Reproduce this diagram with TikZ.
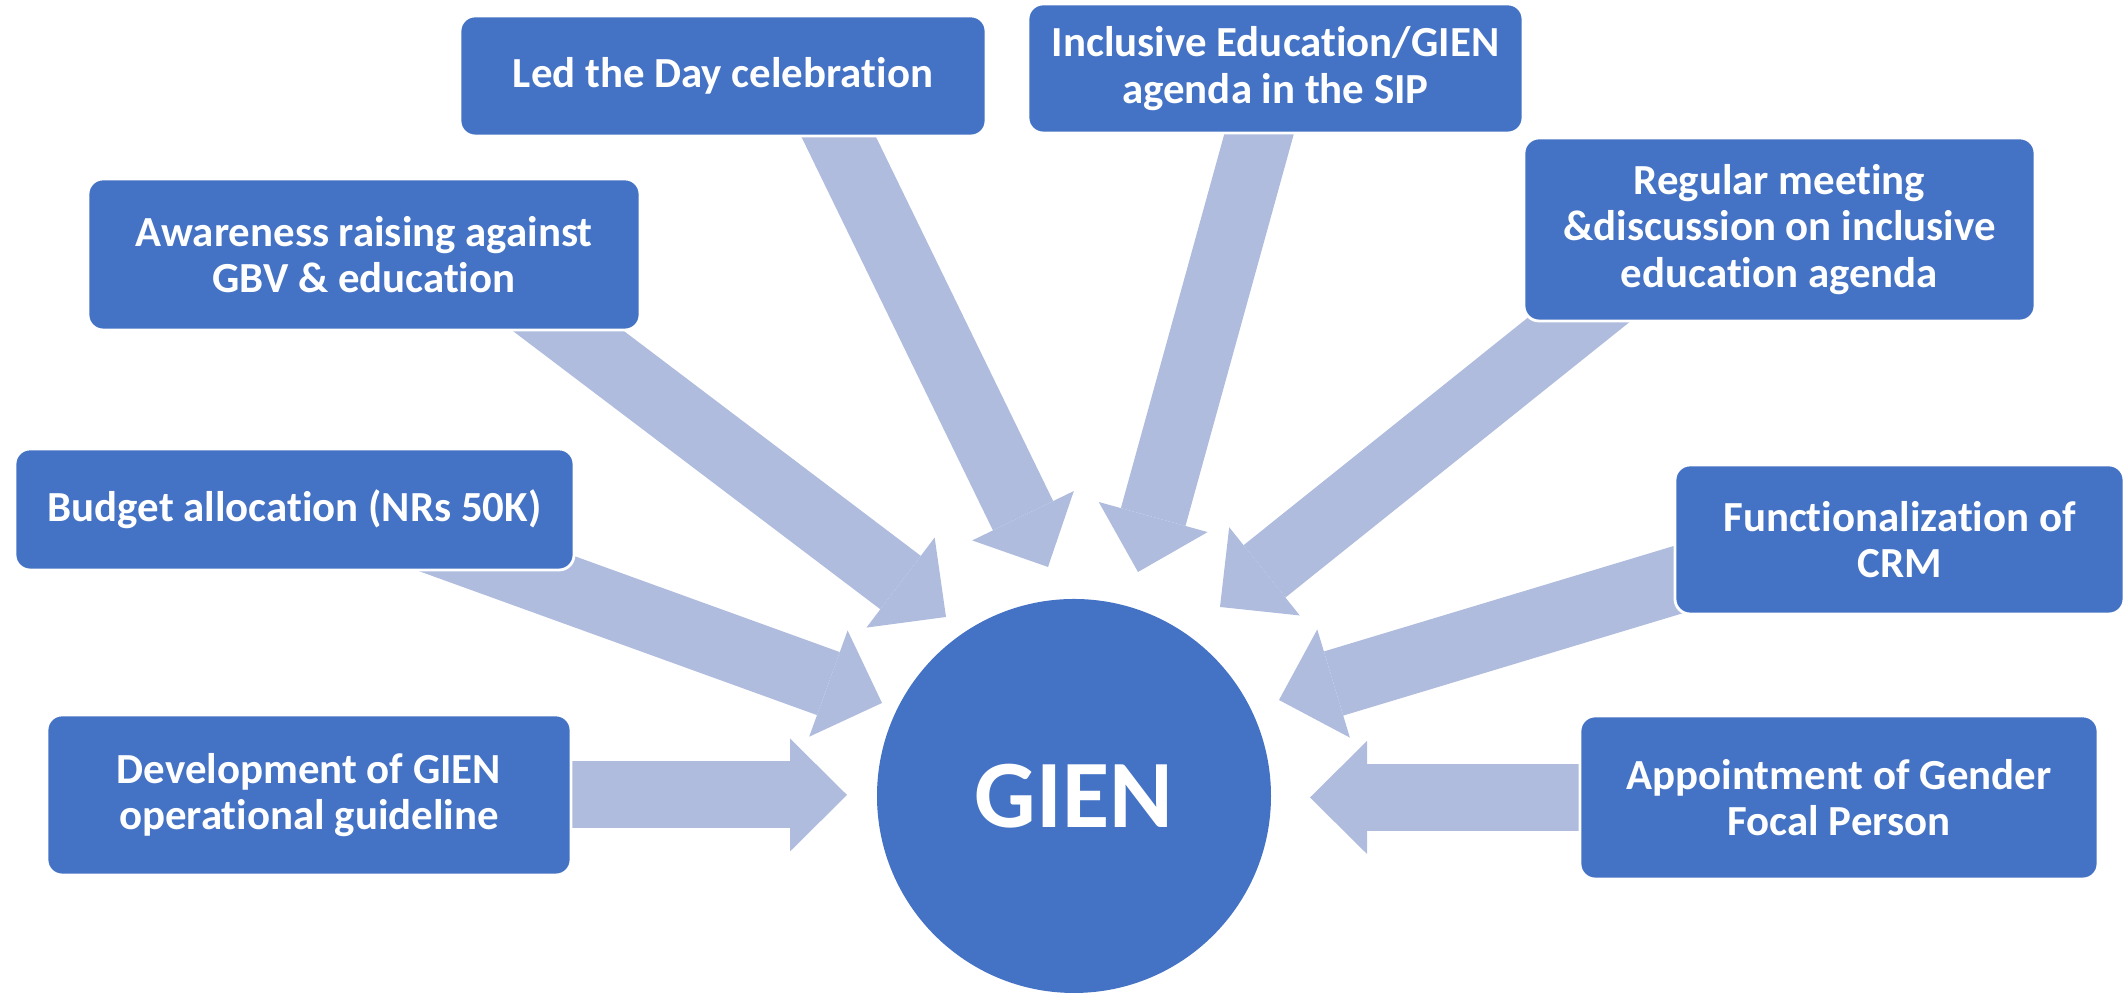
\documentclass[tikz,border=0pt]{standalone}
\usepackage{fontspec}
\setmainfont{Carlito}[Ligatures=NoCommon]
\usetikzlibrary{positioning}
\usetikzlibrary{arrows.meta}
\usetikzlibrary{backgrounds}

\definecolor{boxblue}{RGB}{68,114,196}
\definecolor{arrowblue}{RGB}{175,188,222}

\begin{document}
\begin{tikzpicture}[
    item/.style={
        rectangle,
        rounded corners=0.15cm,
        fill=boxblue,
        draw=white,
        line width=0.8pt,
        text=white,
        align=center,
        inner sep=0pt,
        font=\fontsize{12.2}{13.2}\selectfont\bfseries
    },
    fatarrow/.style={
        draw=arrowblue,
        line width=0.67cm,
        -{Triangle[length=0.57cm, width=1.13cm, line width=0pt]}
    }
]

    \useasboundingbox (0,0) rectangle (21.26,9.94);

    % Centre
    \node[
        circle,
        fill=boxblue,
        minimum size=3.94cm,
        inner sep=0pt,
        text=white,
        font=\fontsize{27.5}{30}\selectfont\bfseries
    ] (gien) at (10.74,1.98) {GIEN};

    % Boxes
    \node[item, minimum width=5.26cm, minimum height=1.20cm] (led) at (7.23,9.18) {Led the Day celebration};
    \node[item, minimum width=4.95cm, minimum height=1.29cm] (incl) at (12.755,9.255) {Inclusive Education/GIEN\\agenda in the SIP};
    \node[item, minimum width=5.52cm, minimum height=1.51cm] (aware) at (3.64,7.395) {Awareness raising against\\GBV \& education};
    \node[item, minimum width=5.11cm, minimum height=1.83cm] (meet) at (17.795,7.645) {Regular meeting\\\&discussion on inclusive\\education agenda};
    \node[item, minimum width=5.59cm, minimum height=1.21cm] (budget) at (2.945,4.845) {Budget allocation (NRs 50K)};
    \node[item, minimum width=4.49cm, minimum height=1.49cm] (crm) at (18.995,4.545) {Functionalization of\\CRM};
    \node[item, minimum width=5.24cm, minimum height=1.60cm] (guide) at (3.09,1.99) {Development of GIEN\\operational guideline};
    \node[item, minimum width=5.18cm, minimum height=1.63cm] (focal) at (18.39,1.965) {Appointment of Gender\\Focal Person};

    % Arrow ends
    \coordinate (ledtail) at (8.11,9.14);
    \coordinate (ledtip) at (10.48,4.27);
    \coordinate (incltail) at (12.74,9.14);
    \coordinate (incltip) at (11.38,4.22);
    \coordinate (awaretail) at (5.01,7.14);
    \coordinate (awaretip) at (9.46,3.77);
    \coordinate (meettail) at (16.41,7.24);
    \coordinate (meettip) at (12.20,3.87);
    \coordinate (budgettail) at (3.76,4.74);
    \coordinate (budgettip) at (8.82,2.91);
    \coordinate (crmtail) at (17.60,4.39);
    \coordinate (crmtip) at (12.79,2.94);
    \coordinate (guidetip) at (8.47,1.99);
    \coordinate (focaltip) at (13.10,1.965);

    % Arrows
    \begin{scope}[on background layer]
        \draw[fatarrow] (ledtail) -- (ledtip);
        \draw[fatarrow] (incltail) -- (incltip);
        \draw[fatarrow] (awaretail) -- (awaretip);
        \draw[fatarrow] (meettail) -- (meettip);
        \draw[fatarrow] (budgettail) -- (budgettip);
        \draw[fatarrow] (crmtail) -- (crmtip);
        \draw[fatarrow] (guide.center) -- (guidetip);
        \draw[fatarrow] (focal.center) -- (focaltip);
    \end{scope}

\end{tikzpicture}
\end{document}
